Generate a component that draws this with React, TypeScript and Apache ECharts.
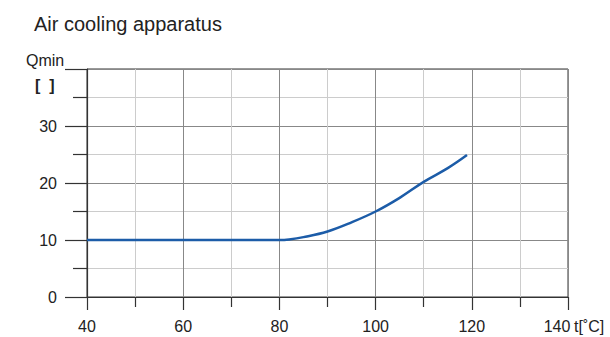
import React, { useEffect, useRef } from "react";
import * as echarts from "echarts";

const temperatures = [40, 50, 60, 70, 80, 82, 85, 90, 95, 100, 105, 110, 115, 119];
const qminValues = [10, 10, 10, 10, 10, 10.1, 10.5, 11.5, 13.1, 15.0, 17.4, 20.2, 22.6, 24.9];
const titleText = "Air cooling apparatus";
const yName = "Qmin";
const yUnit = "[  ]";
const xName = "t[˚C]";

export default function App() {
  const ref = useRef<HTMLDivElement>(null);
  useEffect(() => {
    if (!ref.current) return;
    const chart = echarts.init(ref.current, null, { renderer: "svg" });
    const font = "'Liberation Sans', Arial, sans-serif";
    chart.setOption({
      animation: false,
      textStyle: { fontFamily: font },
      title: {
        text: titleText,
        left: 29,
        top: 9,
        textStyle: { fontFamily: font, fontSize: 20, fontWeight: "normal", color: "#222" },
      },
      grid: {
        left: 87,
        right: 42,
        top: 69,
        bottom: 40,
        show: true,
        borderColor: "#333",
        borderWidth: 1,
      },
      graphic: [
        { type: "text", left: 26, top: 52, style: { text: yName, font: `16px ${font}`, fill: "#222" } },
        { type: "text", left: 35, top: 77, style: { text: yUnit, font: `bold 16px ${font}`, fill: "#222" } },
        { type: "text", left: 574, top: 318, style: { text: xName, font: `16px ${font}`, fill: "#222" } },
      ],
      xAxis: {
        type: "value",
        min: 40,
        max: 140,
        interval: 20,
        axisLine: { show: true, onZero: false, lineStyle: { color: "#333", width: 1.2 } },
        axisTick: { show: true, length: 13, lineStyle: { color: "#333", width: 1.2 } },
        minorTick: { show: true, splitNumber: 2, length: 10, lineStyle: { color: "#333", width: 1.2 } },
        axisLabel: {
          margin: 21,
          fontSize: 16,
          color: "#222",
          fontFamily: font,
          formatter: (v: number) => (v === 140 ? "{last|140}" : String(v)),
          rich: { last: { fontSize: 16, color: "#222", fontFamily: font, padding: [0, 22, 0, 0] } },
        },
        splitLine: { show: true, lineStyle: { color: "#888", width: 1 } },
        minorSplitLine: { show: true, lineStyle: { color: "#ccc", width: 1 } },
      },
      yAxis: {
        type: "value",
        min: 0,
        max: 40,
        interval: 10,
        axisLine: { show: true, onZero: false, lineStyle: { color: "#333", width: 1.2 } },
        axisTick: { show: true, length: 22, lineStyle: { color: "#333", width: 1.2 } },
        minorTick: { show: true, splitNumber: 2, length: 14, lineStyle: { color: "#333", width: 1.2 } },
        axisLabel: {
          margin: 30,
          fontSize: 16,
          color: "#222",
          fontFamily: font,
          formatter: (v: number) => (v === 40 ? "" : String(v)),
        },
        splitLine: { show: true, lineStyle: { color: "#888", width: 1 } },
        minorSplitLine: { show: true, lineStyle: { color: "#ccc", width: 1 } },
      },
      series: [
        {
          type: "line",
          data: temperatures.map((t, i) => [t, qminValues[i]]),
          smooth: 0.4,
          showSymbol: false,
          lineStyle: { color: "#1c5ca8", width: 2.5 },
        },
      ],
    });
    return () => chart.dispose();
  }, []);
  return <div ref={ref} style={{ width: 610, height: 337, position: "absolute", left: 0, top: 0, background: "#fff" }} />;
}
